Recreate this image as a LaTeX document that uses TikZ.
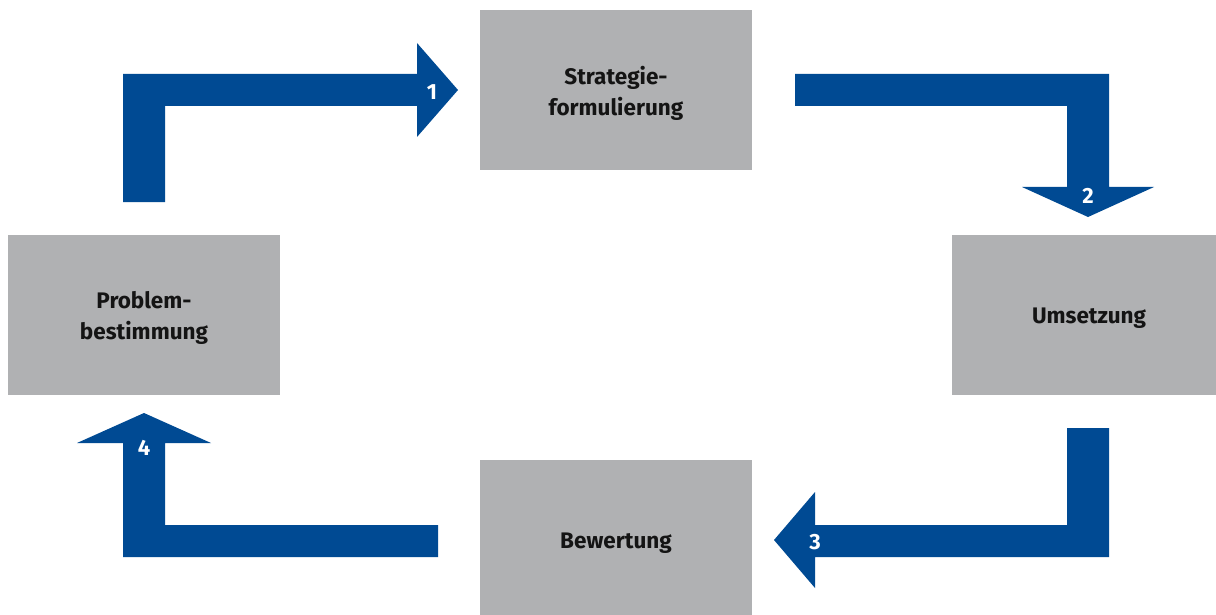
\documentclass[tikz,border=0pt]{standalone}
\usepackage{fontspec}
\setmainfont{Fira Sans}
\definecolor{arrowblue}{RGB}{0,74,147}
\definecolor{boxgrey}{RGB}{176,177,179}
\definecolor{txt}{RGB}{20,20,20}
\begin{document}
\begin{tikzpicture}[x=1pt,y=-1pt,
  stagebox/.style={fill=boxgrey,draw=none,inner sep=0pt,font=\fontsize{22.5}{31}\selectfont\bfseries,text=txt,align=center},
  bentarrow/.style={fill=arrowblue,draw=none},
  numlabel/.style={text=white,font=\fontsize{22}{26}\selectfont\bfseries,inner sep=0pt}]
\useasboundingbox (0,0) rectangle (1216,615);
% boxes
\fill[boxgrey] (480,10) rectangle (752,170);
\node[stagebox] (strat) at (616,93) {Strategie-\\formulierung};
\fill[boxgrey] (952,235) rectangle (1216,395);
\node[stagebox] (ums) at (1089,318) {Umsetzung};
\fill[boxgrey] (480,460) rectangle (752,620);
\node[stagebox] (bew) at (616,543) {Bewertung};
\fill[boxgrey] (8,235) rectangle (280,395);
\node[stagebox] (prob) at (144,318) {Problem-\\bestimmung};
% arrows
\fill[bentarrow] (123,202) -- (165,202) -- (165,106) -- (417,106) -- (417,137) -- (458,90) -- (417,43) -- (417,74) -- (123,74) -- cycle;
\fill[bentarrow] (795,74) -- (1109,74) -- (1109,187) -- (1154,187) -- (1088,217) -- (1022,187) -- (1067,187) -- (1067,106) -- (795,106) -- cycle;
\fill[bentarrow] (1067,428) -- (1109,428) -- (1109,557) -- (815,557) -- (815,588) -- (774,540) -- (815,492) -- (815,525) -- (1067,525) -- cycle;
\fill[bentarrow] (438,525) -- (438,557) -- (123,557) -- (123,443) -- (77,443) -- (144,413) -- (211,443) -- (165,443) -- (165,525) -- cycle;
% numbers
\node[numlabel] (n1) at (432,92) {1};
\node[numlabel] (n2) at (1088,196) {2};
\node[numlabel] (n3) at (815,542) {3};
\node[numlabel] (n4) at (144,448) {4};
\end{tikzpicture}
\end{document}
